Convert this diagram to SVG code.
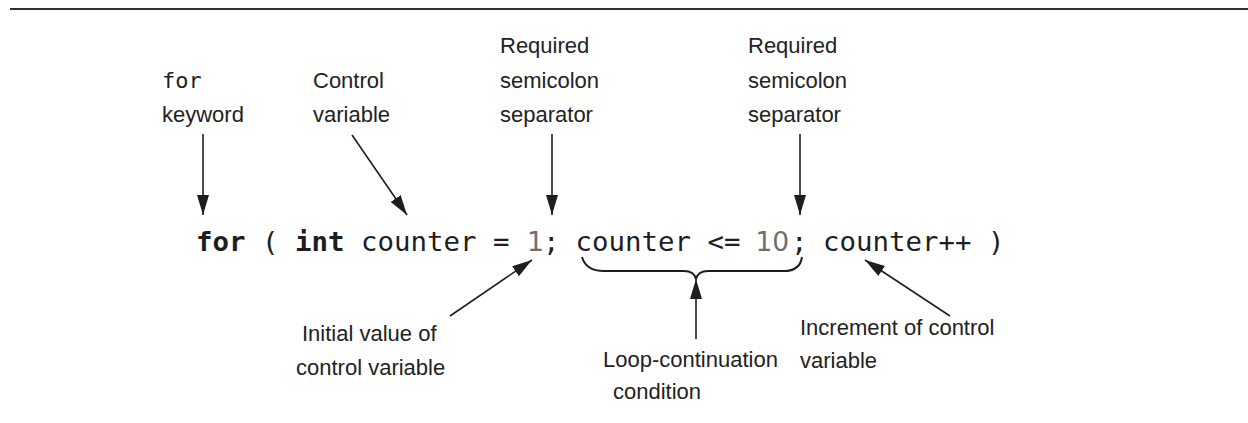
<svg xmlns="http://www.w3.org/2000/svg" width="1248" height="423" viewBox="0 0 1248 423">
<defs>
<marker id="ah" markerUnits="userSpaceOnUse" markerWidth="20" markerHeight="12" refX="20" refY="6" orient="auto" viewBox="0 0 20 12">
<path d="M0,0 L20,6 L0,12 z" fill="#1e1e1e"/>
</marker>
<style>
.lbl{font-family:"Liberation Sans",Arial,sans-serif;font-size:22px;fill:#222}
.mono{font-family:"DejaVu Sans Mono",monospace;fill:#1e1e1e}
.code{font-family:"DejaVu Sans Mono",monospace;font-size:27.4px;fill:#1e1e1e}
.b{font-weight:bold}
.num{font-family:"DejaVu Sans",sans-serif;font-size:26.5px;fill:#6e6e6e}
.ln{stroke:#1e1e1e;stroke-width:1.6;fill:none}
</style>
</defs>
<rect width="1248" height="423" fill="#fff"/>
<line x1="10" y1="9" x2="1248" y2="9" stroke="#333" stroke-width="2"/>

<g id="code">
<text class="code b" x="196" y="251">for</text>
<text class="code" x="262" y="251">(</text>
<text class="code b" x="295" y="251">int</text>
<text class="code" x="361" y="251">counter</text>
<text class="code" x="493" y="251">=</text>
<text class="num" x="527" y="251">1</text>
<text class="code" x="543" y="251">;</text>
<text class="code" x="575.5" y="251">counter</text>
<text class="code" x="707.5" y="251">&lt;=</text>
<text class="num" x="755.5" y="251">10</text>
<text class="code" x="791" y="251">;</text>
<text class="code" x="823" y="251">counter++</text>
<text class="code" x="988" y="251">)</text>
</g>

<g id="for-keyword">
<text class="mono" font-size="22" x="162" y="88">for</text>
<text class="lbl" x="162" y="122">keyword</text>
</g>
<g id="control-variable">
<text class="lbl" x="313" y="88">Control</text>
<text class="lbl" x="313" y="122">variable</text>
</g>
<g id="semicolon1">
<text class="lbl" x="500" y="53">Required</text>
<text class="lbl" x="500" y="88">semicolon</text>
<text class="lbl" x="500" y="122">separator</text>
</g>
<g id="semicolon2">
<text class="lbl" x="748" y="53">Required</text>
<text class="lbl" x="748" y="88">semicolon</text>
<text class="lbl" x="748" y="122">separator</text>
</g>
<g id="initial-value">
<text class="lbl" x="302" y="341">Initial value of</text>
<text class="lbl" x="296" y="375">control variable</text>
</g>
<g id="loop-condition">
<text class="lbl" x="603" y="367">Loop-continuation</text>
<text class="lbl" x="613" y="399">condition</text>
</g>
<g id="increment">
<text class="lbl" x="800" y="335">Increment of control</text>
<text class="lbl" x="800" y="368">variable</text>
</g>

<g id="connectors">
<line class="ln" x1="203" y1="134" x2="203" y2="215" marker-end="url(#ah)"/>
<line class="ln" x1="352" y1="135" x2="407" y2="215" marker-end="url(#ah)"/>
<line class="ln" x1="552" y1="134" x2="552" y2="215" marker-end="url(#ah)"/>
<line class="ln" x1="800" y1="134" x2="800" y2="215" marker-end="url(#ah)"/>
<line class="ln" x1="450" y1="316" x2="532" y2="260" marker-end="url(#ah)"/>
<line class="ln" x1="696" y1="339" x2="696" y2="279" marker-end="url(#ah)"/>
<line class="ln" x1="950" y1="316" x2="865" y2="260" marker-end="url(#ah)"/>
<path d="M582,257 Q586,271 604,271 L684,271 Q694,271 696,279 Q698,271 708,271 L784,271 Q800,271 802,257" fill="none" stroke="#1e1e1e" stroke-width="2"/>
</g>
</svg>
